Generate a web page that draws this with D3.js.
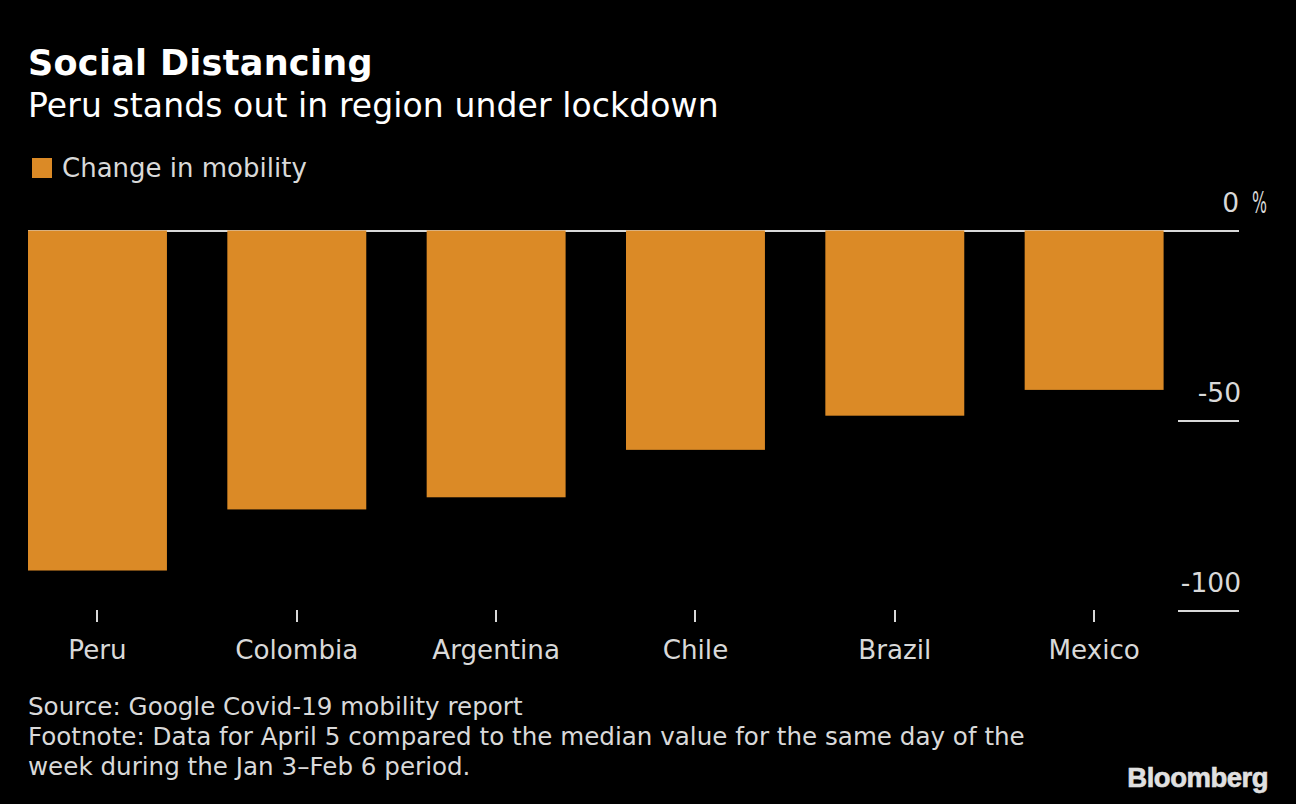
<!DOCTYPE html>
<html>
  <head>
    <meta charset="utf-8">
    <title>Social Distancing</title>
    <script src="https://cdn.jsdelivr.net/npm/d3@7"></script>
    <style type="text/css">
      html, body { margin: 0; padding: 0; background: #000; }
      svg { display: block; }
      text { font-family: "DejaVu Sans", sans-serif; }
      .title { font-weight: bold; font-size: 35px; letter-spacing: 0.3px; fill: #fff; }
      .subtitle { font-size: 33px; letter-spacing: 0.1px; fill: #fff; }
      .legend { font-size: 26px; fill: #d9d9d9; }
      .note { font-size: 24.6px; fill: #d9d9d9; }
      .axis text { font-size: 26.5px; fill: #d9d9d9; }
      .x.axis text { font-size: 26.2px; }
      .axis line { stroke: #d9d9d9; stroke-width: 2px; shape-rendering: crispEdges; }
      .axis path { display: none; }
      .brand { font-family: "Liberation Sans", sans-serif; font-weight: bold; font-size: 27.5px; fill: #e0e0e0; stroke: #e0e0e0; stroke-width: 0.6px; letter-spacing: -0.5px; }
    </style>
  </head>
  <body>
    <script type="text/javascript">
      var categories = ['Peru', 'Colombia', 'Argentina', 'Chile', 'Brazil', 'Mexico'];
      var mobility = [-89.6, -73.5, -70.3, -57.8, -48.8, -42];
      var yTicks = [0, -50, -100];
      var noteLines = [
        'Source: Google Covid-19 mobility report',
        'Footnote: Data for April 5 compared to the median value for the same day of the',
        'week during the Jan 3\u2013Feb 6 period.'
      ];

      var w = 1296;
      var h = 804;
      var orange = '#db8a26';

      var svg = d3.select('body')
                  .append('svg')
                  .attr('width', w)
                  .attr('height', h);

      var xScale = d3.scaleBand()
                     .domain(categories)
                     .range([28, 1163.6])
                     .paddingInner(0.303)
                     .paddingOuter(0);

      var yScale = d3.scaleLinear()
                     .domain([0, -100])
                     .range([230.5, 610]);

      // right axis: short rules under each label, labels sit on top of them
      var yAxis = d3.axisLeft(yScale)
                    .tickValues(yTicks)
                    .tickSize(61)
                    .tickPadding(0)
                    .tickFormat(function(d) { return d; });

      var yG = svg.append('g')
                  .attr('class', 'y axis')
                  .attr('transform', 'translate(1239,0)')
                  .call(yAxis);

      yG.selectAll('text')
        .attr('x', function(d) { return d === 0 ? 0 : 2; })
        .attr('dy', -19)
        .style('text-anchor', 'end');

      // zero line runs the full width, behind the bars
      svg.append('line')
         .attr('class', 'zero')
         .attr('x1', 28)
         .attr('x2', 1239)
         .attr('y1', yScale(0))
         .attr('y2', yScale(0))
         .attr('stroke', '#d9d9d9')
         .attr('stroke-width', 2)
         .style('shape-rendering', 'crispEdges');

      svg.append('text')
         .attr('class', 'axis-unit')
         .attr('x', 1252)
         .attr('y', yScale(0) - 18)
         .attr('textLength', 15)
         .attr('lengthAdjust', 'spacingAndGlyphs')
         .style('font-size', '31px')
         .style('fill', '#d9d9d9')
         .text('%');

      svg.selectAll('rect.bar')
         .data(categories)
         .enter()
         .append('rect')
         .attr('class', 'bar')
         .attr('x', function(d) { return xScale(d); })
         .attr('y', yScale(0))
         .attr('width', xScale.bandwidth())
         .attr('height', function(d, i) { return yScale(mobility[i]) - yScale(0); })
         .attr('fill', orange);

      var xAxis = d3.axisBottom(xScale)
                    .tickSize(12)
                    .tickPadding(18);

      svg.append('g')
         .attr('class', 'x axis')
         .attr('transform', 'translate(0,610)')
         .call(xAxis);

      svg.append('text')
         .attr('class', 'title')
         .attr('x', 28)
         .attr('y', 75)
         .text('Social Distancing');

      svg.append('text')
         .attr('class', 'subtitle')
         .attr('x', 28)
         .attr('y', 117)
         .text('Peru stands out in region under lockdown');

      svg.append('rect')
         .attr('x', 32)
         .attr('y', 158)
         .attr('width', 20)
         .attr('height', 20)
         .attr('fill', orange);

      svg.append('text')
         .attr('class', 'legend')
         .attr('x', 62)
         .attr('y', 177)
         .text('Change in mobility');

      svg.selectAll('text.note')
         .data(noteLines)
         .enter()
         .append('text')
         .attr('class', 'note')
         .attr('x', 28)
         .attr('y', function(d, i) { return 715 + i * 30; })
         .text(function(d) { return d; });

      svg.append('text')
         .attr('class', 'brand')
         .attr('x', 1268)
         .attr('y', 787)
         .style('text-anchor', 'end')
         .text('Bloomberg');
    </script>
  </body>
</html>
